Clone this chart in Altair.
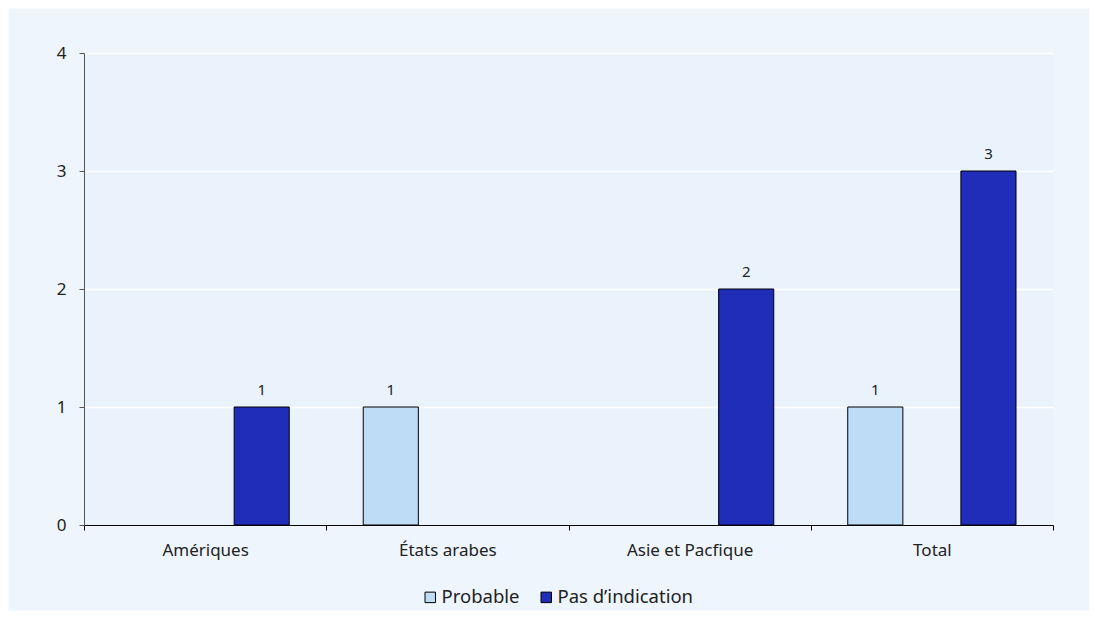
import altair as alt
import pandas as pd

categories = ["Amériques", "États arabes", "Asie et Pacfique", "Total"]
series = ["Probable", "Pas d’indication"]
probable = [None, 1, None, 1]
pas_indication = [1, None, 2, 3]
colors = ["#BFDCF7", "#1F2DB9"]

rows = []
for c, p, q in zip(categories, probable, pas_indication):
    if p is not None:
        rows.append({"cat": c, "serie": series[0], "val": p})
    if q is not None:
        rows.append({"cat": c, "serie": series[1], "val": q})
df = pd.DataFrame(rows)

FONT = "Noto Sans"
W, H = 969, 472

x = alt.X("cat:N", sort=categories, title=None,
          scale=alt.Scale(paddingInner=0, paddingOuter=0),
          axis=alt.Axis(labelAngle=0, tickBand="extent", domainColor="#000000",
                        tickColor="#000000", tickSize=5, labelPadding=12,
                        labelFontSize=17, labelColor="#222222", labelFont=FONT,
                        grid=False))
xo = alt.XOffset("serie:N", sort=series,
                 scale=alt.Scale(domain=series, paddingInner=0.513, paddingOuter=0.327))
y = alt.Y("val:Q", title=None,
          scale=alt.Scale(domain=[0, 4]),
          axis=alt.Axis(values=[0, 1, 2, 3, 4], format="d", domainColor="#555555",
                        tickColor="#555555", tickSize=5, labelPadding=13,
                        labelFontSize=17, labelColor="#222222", labelFont=FONT,
                        gridColor="#FFFFFF", gridWidth=1.5))

frame = alt.Chart(pd.DataFrame({"a": [0]})).mark_rect(
    fill=None, stroke="#FFFFFF", strokeWidth=17
).encode(
    x=alt.value(-84), x2=alt.value(1014), y=alt.value(-53), y2=alt.value(566)
)

bars = alt.Chart(df).mark_bar(stroke="#000000", strokeWidth=1).encode(
    x=x, xOffset=xo, y=y,
    color=alt.Color("serie:N", sort=series,
                    scale=alt.Scale(domain=series, range=colors),
                    legend=alt.Legend(title=None, orient="none", direction="horizontal",
                                      legendX=337, legendY=535,
                                      symbolType="square", symbolSize=110,
                                      symbolStrokeColor="#000000", symbolStrokeWidth=1,
                                      labelFontSize=18.5, labelFont=FONT,
                                      labelColor="#222222", columnPadding=17,
                                      symbolOffset=0, labelOffset=2)),
)

labels = alt.Chart(df).mark_text(dy=-17, fontSize=15, font=FONT, color="#222222").encode(
    x=x, xOffset=xo, y=y, text=alt.Text("val:Q", format="d")
)

chart = alt.layer(bars, labels, frame).properties(
    width=W, height=H,
    autosize=alt.AutoSizeParams(type="none"),
    padding={"left": 84, "top": 53, "right": 45, "bottom": 94},
    background="#EEF5FC",
).configure_view(fill="#EAF3FC", stroke=None)

chart.save("out.html", embed_options={"renderer": "svg", "actions": False})
